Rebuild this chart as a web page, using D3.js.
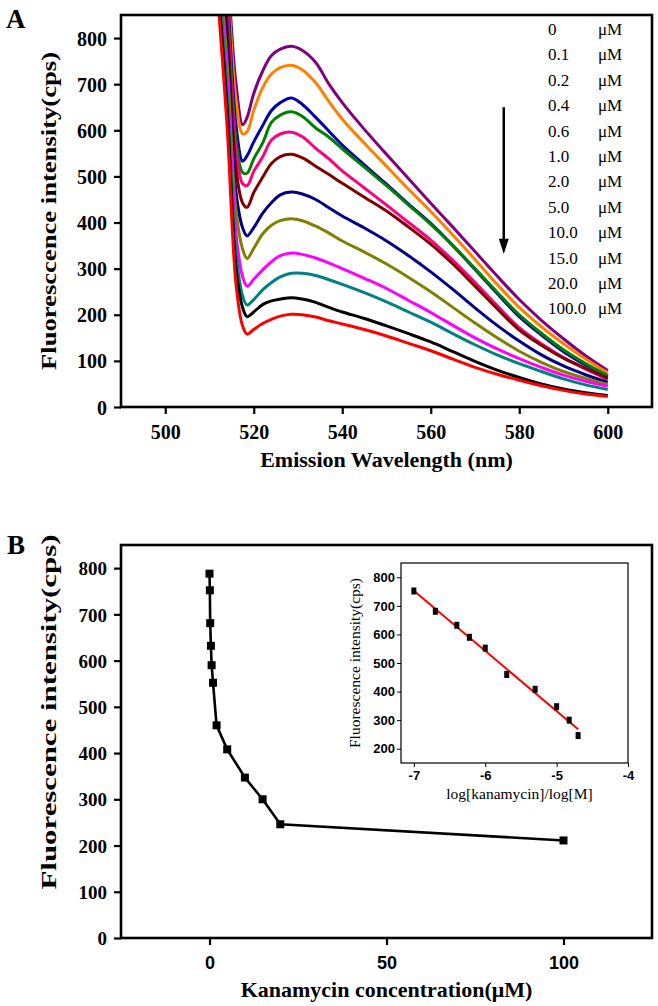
<!DOCTYPE html>
<html>
<head>
<meta charset="utf-8">
<script src="https://cdn.jsdelivr.net/npm/d3@7"></script>
<style>
  body { margin: 0; background: #fff; }
  svg { display: block; }
</style>
</head>
<body>
<div id="chart"></div>
<script>
// data
const wavelengths = [512, 514, 516, 517.5, 518.5, 520, 522, 524, 526, 528.5, 531, 534, 537, 540, 545, 550, 555, 560, 565, 570, 575, 580, 585, 590, 595, 600];

const concLabels = ["0", "0.1", "0.2", "0.4", "0.6", "1.0", "2.0", "5.0", "10.0", "15.0", "20.0", "100.0"];

// one spectrum per concentration, same order as concLabels
const spectra = [
  [1150, 950, 700, 612, 628, 680, 728, 762, 776, 782, 773, 747, 700, 660, 602, 548, 495, 442, 390, 337, 284, 233, 188, 148, 111, 79],
  [1120, 925, 665, 592, 597, 643, 692, 722, 736, 741, 731, 703, 662, 624, 572, 522, 472, 424, 373, 320, 266, 216, 174, 137, 104, 74],
  [1090, 895, 610, 533, 545, 575, 610, 643, 660, 670, 656, 628, 598, 568, 525, 483, 440, 398, 350, 298, 246, 196, 156, 120, 91, 66],
  [1070, 875, 580, 508, 507, 538, 572, 617, 633, 640, 630, 605, 585, 560, 520, 480, 438, 396, 350, 300, 249, 200, 160, 124, 94, 68],
  [1050, 855, 555, 484, 480, 511, 542, 579, 592, 596, 586, 561, 538, 512, 475, 438, 400, 362, 318, 270, 220, 172, 137, 107, 82, 60],
  [1030, 825, 515, 442, 433, 465, 498, 528, 543, 548, 540, 522, 504, 485, 455, 425, 390, 353, 310, 262, 213, 167, 134, 106, 84, 62],
  [1000, 785, 465, 388, 371, 389, 420, 443, 460, 466, 462, 450, 432, 414, 388, 360, 328, 293, 255, 215, 177, 143, 113, 89, 70, 54],
  [980, 745, 425, 342, 322, 344, 375, 394, 404, 408, 404, 392, 377, 360, 336, 310, 281, 250, 216, 182, 150, 121, 97, 77, 62, 49],
  [950, 705, 375, 282, 262, 277, 297, 315, 328, 334, 331, 323, 312, 300, 279, 257, 231, 205, 177, 150, 126, 105, 86, 69, 56, 45],
  [930, 675, 335, 240, 221, 233, 254, 270, 282, 290, 290, 285, 276, 266, 248, 228, 206, 184, 159, 135, 113, 94, 77, 61, 48, 38],
  [900, 645, 300, 215, 196, 206, 222, 230, 234, 237, 234, 227, 216, 206, 192, 176, 159, 141, 120, 99, 80, 64, 50, 39, 31, 25],
  [870, 605, 265, 175, 158, 168, 181, 190, 197, 201, 200, 195, 187, 180, 168, 154, 138, 122, 104, 86, 71, 58, 46, 36, 28, 23]
];

const lineColors = ["#800080", "#ff8000", "#0000b0", "#008000", "#ff0080", "#800000",
                    "#000088", "#808000", "#ff00ff", "#008080", "#000000", "#ff0000"];

// panel B
const kanaConc = [0, 0.1, 0.2, 0.4, 0.6, 1, 2, 5, 10, 15, 20, 100];
const kanaIntensity = [788, 752, 681, 632, 590, 552, 460, 408, 347, 300, 246, 211];

const intensityTicks = [0, 100, 200, 300, 400, 500, 600, 700, 800];
const wavelengthTicks = [500, 520, 540, 560, 580, 600];
const concTicks = [0, 50, 100];
const insetYTicks = [200, 300, 400, 500, 600, 700, 800];
const insetXTicks = [-7, -6, -5, -4];

const serif = '"Liberation Serif", "Times New Roman", serif';
const sans = '"Liberation Sans", Arial, sans-serif';

let svg = d3.select('#chart')
  .append('svg')
  .attr('width', 658)
  .attr('height', 1006)
  .style('background-color', 'white');

// ---------- panel A ----------
let a = {left: 121, top: 15, right: 652, bottom: 407};

let xA = d3.scaleLinear().domain([490, 610]).range([a.left, a.right]);
let yA = d3.scaleLinear().domain([0, 850]).range([a.bottom, a.top]);

svg.append('clipPath').attr('id', 'clipA')
  .append('rect')
  .attr('x', a.left).attr('y', a.top)
  .attr('width', a.right - a.left).attr('height', a.bottom - a.top);

let lineA = d3.line()
  .x((d, i) => xA(wavelengths[i]))
  .y(d => yA(d))
  .curve(d3.curveCatmullRom.alpha(0.5));

svg.append('g').attr('clip-path', 'url(#clipA)')
  .selectAll('path')
  .data(spectra)
  .enter().append('path')
  .attr('d', lineA)
  .attr('fill', 'none')
  .attr('stroke', (d, i) => lineColors[i])
  .attr('stroke-width', 3)
  .attr('stroke-linejoin', 'round');

// axes
let axA_y = svg.append('g')
  .attr('transform', 'translate(' + a.left + ',0)')
  .call(d3.axisLeft(yA).tickValues(intensityTicks).tickSize(7).tickPadding(7));
let axA_x = svg.append('g')
  .attr('transform', 'translate(0,' + a.bottom + ')')
  .call(d3.axisBottom(xA).tickValues(wavelengthTicks).tickSize(7));

[axA_y, axA_x].forEach(g => {
  g.select('.domain').remove();
  g.selectAll('line').attr('stroke', '#000').attr('stroke-width', 2.2);
  g.selectAll('text')
    .style('font-family', serif)
    .style('font-weight', 'bold')
    .style('font-size', '20px')
    .attr('fill', '#000');
});
axA_y.selectAll('text').attr('dy', '0.35em');
axA_x.selectAll('text').attr('dy', null).attr('y', 32);

svg.append('rect')
  .attr('x', a.left).attr('y', a.top)
  .attr('width', a.right - a.left).attr('height', a.bottom - a.top)
  .attr('fill', 'none').attr('stroke', '#000').attr('stroke-width', 2.6);

// legend (text only) and arrow
let legend = svg.append('g')
  .style('font-family', serif)
  .style('font-size', '17px');
legend.selectAll('.num')
  .data(concLabels)
  .enter().append('text')
  .attr('x', 548)
  .attr('y', (d, i) => 35 + i * 25.4)
  .text(d => d);
legend.selectAll('.unit')
  .data(concLabels)
  .enter().append('text')
  .attr('x', 598)
  .attr('y', (d, i) => 35 + i * 25.4)
  .text('\u03bcM');

svg.append('line')
  .attr('x1', xA(576.5)).attr('x2', xA(576.5))
  .attr('y1', yA(650)).attr('y2', yA(345))
  .attr('stroke', '#000').attr('stroke-width', 2.5);
svg.append('path')
  .attr('d', d3.line()([[xA(576.5) - 5, yA(365)], [xA(576.5) + 5, yA(365)], [xA(576.5), yA(332)]]) + 'Z')
  .attr('fill', '#000');

// titles
svg.append('text')
  .attr('transform', 'translate(56,' + (a.top + a.bottom) / 2 + ') rotate(-90)')
  .attr('text-anchor', 'middle')
  .attr('textLength', 318)
  .attr('lengthAdjust', 'spacingAndGlyphs')
  .style('font-family', serif).style('font-weight', 'bold').style('font-size', '22px')
  .text('Fluoresccence intensity(cps)');

svg.append('text')
  .attr('x', (a.left + a.right) / 2).attr('y', 467)
  .attr('text-anchor', 'middle')
  .style('font-family', serif).style('font-weight', 'bold').style('font-size', '22px')
  .text('Emission Wavelength (nm)');

svg.append('text')
  .attr('x', 6).attr('y', 28)
  .style('font-family', serif).style('font-weight', 'bold').style('font-size', '27px')
  .text('A');

// ---------- panel B ----------
let b = {left: 121, top: 545, right: 652, bottom: 938};

let xB = d3.scaleLinear().domain([-25, 125]).range([b.left, b.right]);
let yB = d3.scaleLinear().domain([0, 850]).range([b.bottom, b.top]);

let axB_y = svg.append('g')
  .attr('transform', 'translate(' + b.left + ',0)')
  .call(d3.axisLeft(yB).tickValues(intensityTicks).tickSize(7).tickPadding(7));
let axB_x = svg.append('g')
  .attr('transform', 'translate(0,' + b.bottom + ')')
  .call(d3.axisBottom(xB).tickValues(concTicks).tickSize(7));

[axB_y, axB_x].forEach(g => {
  g.select('.domain').remove();
  g.selectAll('line').attr('stroke', '#000').attr('stroke-width', 2.2);
  g.selectAll('text').attr('fill', '#000').style('font-weight', 'bold');
});
axB_y.selectAll('text')
  .style('font-family', serif).style('font-size', '19px')
  .attr('dy', '0.35em');
axB_x.selectAll('text')
  .style('font-family', sans).style('font-size', '18px')
  .attr('dy', null).attr('y', 31);

svg.append('rect')
  .attr('x', b.left).attr('y', b.top)
  .attr('width', b.right - b.left).attr('height', b.bottom - b.top)
  .attr('fill', 'none').attr('stroke', '#000').attr('stroke-width', 2.6);

svg.append('path')
  .datum(kanaConc)
  .attr('d', d3.line().x(d => xB(d)).y((d, i) => yB(kanaIntensity[i])))
  .attr('fill', 'none')
  .attr('stroke', '#000')
  .attr('stroke-width', 2.6);

svg.selectAll('.kpt')
  .data(kanaConc)
  .enter().append('rect')
  .attr('class', 'kpt')
  .attr('x', d => xB(d) - 4)
  .attr('y', (d, i) => yB(kanaIntensity[i]) - 4)
  .attr('width', 8).attr('height', 8)
  .attr('fill', '#000');

svg.append('text')
  .attr('transform', 'translate(56,712) rotate(-90)')
  .attr('text-anchor', 'middle')
  .attr('textLength', 355)
  .attr('lengthAdjust', 'spacingAndGlyphs')
  .style('font-family', serif).style('font-weight', 'bold').style('font-size', '22px')
  .text('Fluorescence intensity(cps)');

svg.append('text')
  .attr('x', (b.left + b.right) / 2).attr('y', 997)
  .attr('text-anchor', 'middle')
  .style('font-family', serif).style('font-weight', 'bold').style('font-size', '22px')
  .text('Kanamycin concentration(\u03bcM)');

svg.append('text')
  .attr('x', 7).attr('y', 554)
  .style('font-family', serif).style('font-weight', 'bold').style('font-size', '27px')
  .text('B');

// ---------- inset: linear range on log scale ----------
let ins = {left: 401, top: 563, right: 628, bottom: 763};
let xI = d3.scaleLinear().domain([-7.18, -4]).range([ins.left, ins.right]);
let yI = d3.scaleLinear().domain([150, 850]).range([ins.bottom, ins.top]);

let insetPts = kanaConc.map((c, i) => ({x: Math.log10(c * 1e-6), y: kanaIntensity[i]}))
  .filter(d => d.x > -7.5 && d.x < -4.5);

// least squares fit
let mx = d3.mean(insetPts, d => d.x), my = d3.mean(insetPts, d => d.y);
let slope = d3.sum(insetPts, d => (d.x - mx) * (d.y - my)) / d3.sum(insetPts, d => (d.x - mx) * (d.x - mx));
let icpt = my - slope * mx;
let xFit = d3.extent(insetPts, d => d.x);

svg.append('rect')
  .attr('x', ins.left).attr('y', ins.top)
  .attr('width', ins.right - ins.left).attr('height', ins.bottom - ins.top)
  .attr('fill', 'white').attr('stroke', '#000').attr('stroke-width', 1.2);

let axI_y = svg.append('g')
  .attr('transform', 'translate(' + ins.left + ',0)')
  .call(d3.axisLeft(yI).tickValues(insetYTicks).tickSize(4).tickPadding(2));
let axI_x = svg.append('g')
  .attr('transform', 'translate(0,' + ins.bottom + ')')
  .call(d3.axisBottom(xI).tickValues(insetXTicks).tickFormat(d => String(d)).tickSize(4).tickPadding(4));
[axI_y, axI_x].forEach(g => {
  g.select('.domain').remove();
  g.selectAll('line').attr('stroke', '#000').attr('stroke-width', 1);
  g.selectAll('text')
    .attr('fill', '#000')
    .style('font-family', sans).style('font-weight', 'bold').style('font-size', '13px');
});

svg.append('line')
  .attr('x1', xI(xFit[0])).attr('y1', yI(icpt + slope * xFit[0]))
  .attr('x2', xI(xFit[1])).attr('y2', yI(icpt + slope * xFit[1]))
  .attr('stroke', '#ff0000').attr('stroke-width', 2);

svg.selectAll('.ipt')
  .data(insetPts)
  .enter().append('rect')
  .attr('class', 'ipt')
  .attr('x', d => xI(d.x) - 2.5)
  .attr('y', d => yI(d.y) - 3.5)
  .attr('width', 5).attr('height', 7)
  .attr('fill', '#000');

svg.append('text')
  .attr('transform', 'translate(360,' + (ins.top + ins.bottom) / 2 + ') rotate(-90)')
  .attr('text-anchor', 'middle')
  .style('font-family', serif).style('font-size', '15.5px')
  .text('Fluorescence intensity(cps)');

svg.append('text')
  .attr('x', (ins.left + ins.right) / 2 + 5).attr('y', 799)
  .attr('text-anchor', 'middle')
  .style('font-family', serif).style('font-size', '15.5px')
  .text('log[kanamycin]/log[M]');
</script>
</body>
</html>
